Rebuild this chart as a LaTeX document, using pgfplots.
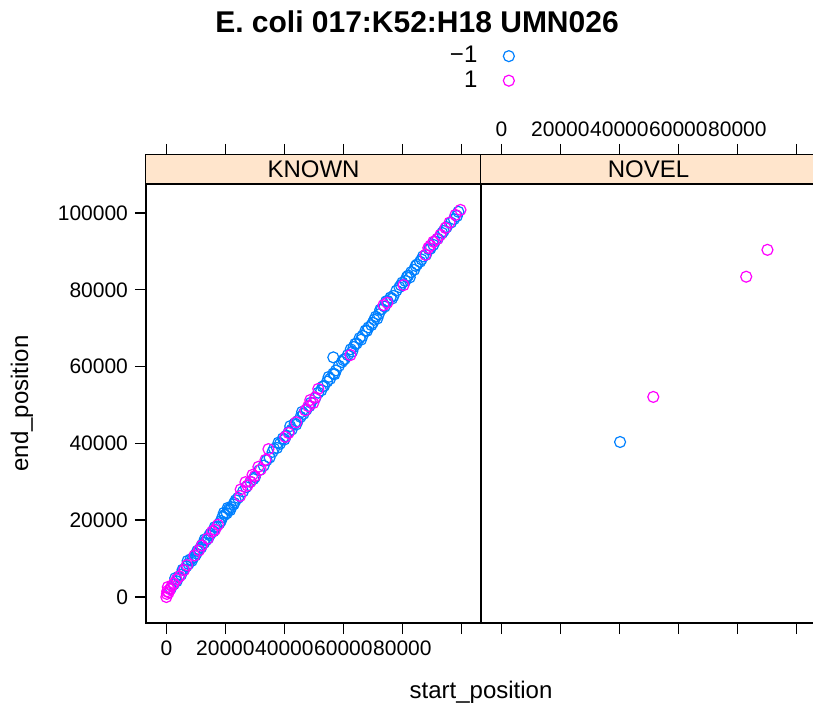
\documentclass[border=0pt]{standalone}
\usepackage{pgfplots}
\pgfplotsset{compat=1.18}
\usepackage{fontspec}
\setmainfont{Liberation Sans}
\definecolor{ltblue}{HTML}{0080FF}
\definecolor{ltmag}{HTML}{FF00FF}
\definecolor{stripbg}{HTML}{FFE5CC}

% known features, strand -1
\pgfplotstableread{
x y
1500 2200
2500 3300
3500 4100
4200 5300
5000 5800
6000 7200
6800 8000
7500 8600
8200 9800
9000 10100
9800 10800
10500 12000
11200 12400
12000 13500
12800 14100
13500 14800
14200 15300
15000 16500
16000 17100
17000 18300
18000 19200
19000 20800
19800 21400
20500 21800
21200 22900
22000 23400
22800 24100
23500 25200
24300 25800
26000 27500
27000 28600
28500 30000
30000 31200
31500 33000
33000 34200
34000 35600
35000 36300
36000 37800
37500 38800
38500 39900
39500 41300
40500 41900
41500 43000
42500 43600
43500 45200
44500 45800
45500 46900
46500 47700
47500 48800
49000 50600
50500 51800
51500 53200
52500 53800
53500 55000
54500 56100
55500 56800
56600 58200
57500 59000
56600 62400
58500 60200
59500 61200
60500 62000
61500 63000
62500 64500
63500 65100
64500 66000
65500 67400
66000 67000
67500 69400
68500 70200
69500 70800
70500 72200
71000 73000
72000 73600
73000 75000
74000 75600
75000 77100
76000 78000
77000 78400
78000 79800
79000 80700
80000 81900
81000 82300
82000 83700
83000 84600
84000 85200
85000 86600
86000 87300
87000 88700
88000 89100
89000 90500
90500 91700
92000 93300
93500 94800
95000 96300
96500 97500
97500 98400
98500 99200
99000 100300
3000 4900
5500 7100
7200 9400
8600 9400
10200 11300
11800 12900
13000 15000
14600 16100
16400 18200
18500 19800
19500 21900
20800 23200
21600 22600
23000 24500
29500 30700
36500 38600
38000 40200
40000 41000
42000 44500
44000 44900
46000 48200
48500 49700
53000 54800
55000 57300
57000 58000
60000 61700
63000 63900
64000 65900
66500 68000
68000 69300
70000 71400
71500 72500
72500 74800
74500 77000
76500 77700
79500 81200
81500 83300
82500 83200
84500 86200
86500 87900
89500 90700
91000 92600
94000 95300
}\knownneg

% known features, strand 1
\pgfplotstableread{
x y
0 0
200 800
300 1500
500 2600
800 1200
1200 2000
1800 2900
2500 3500
3500 4600
4500 5400
6000 7000
7000 8300
9500 10800
11000 12100
12000 13400
14000 15200
15500 17000
16500 17500
17500 18800
25000 26300
25200 28000
26800 29900
27500 29000
28500 30000
29200 31800
30000 31500
31200 33900
32000 33200
33600 35700
34600 38500
40300 41700
41400 42700
44000 45500
47100 48600
48100 49700
48800 51300
49800 50500
50500 52000
51500 54200
62400 63000
73600 76000
74900 76600
80400 81200
87800 89100
88800 90900
89500 91500
90500 92500
91800 93200
92900 94300
94600 96100
96000 97500
98000 99500
99700 100800
}\knownpos

\pgfplotsset{
  panel/.style={
    scale only axis,
    width=167.5pt, height=234pt,
    xmin=-6900, xmax=106660,
    ymin=-6771, ymax=115097,
    scaled ticks=false,
    axis line style={line width=0.7pt},
    tick style={line width=0.7pt, black},
    tick align=outside,
    major tick length=5.5pt,
    xtick={0,20000,40000,60000,80000,100000},
    xtick pos=both,
    tick label style={font=\fontsize{10.5}{12}\selectfont},
    clip=true,
  },
  neg/.style={only marks, mark=o, mark size=2.75pt, color=ltblue, mark options={line width=0.6pt}},
  pos/.style={only marks, mark=o, mark size=2.75pt, color=ltmag, mark options={line width=0.6pt}},
}

\begin{document}
\begin{tikzpicture}
\useasboundingbox (0,0) rectangle (406.5pt,355.5pt);
\clip (0,0) rectangle (406.5pt,355.5pt);

% KNOWN panel
\begin{axis}[panel,
    at={(73pt,44pt)}, anchor=south west,
    ytick={0,20000,40000,60000,80000,100000},
    yticklabels={0,20000,40000,60000,80000,100000},
    ytick pos=left,
    xticklabels={0,20000,40000,60000,80000,{}},
    xticklabel pos=lower,
    legend plot pos=right,
    legend cell align=right,
    legend style={at={(0.999,1.185)}, anchor=center, draw=none, fill=none,
      font=\fontsize{12}{12}\selectfont, row sep=-0.5pt, column sep=11.5pt,
      nodes={inner sep=1.5pt}},
  ]
  \fill[stripbg] (rel axis cs:0,0.938) rectangle (rel axis cs:1,1);
  \draw[line width=0.7pt] (rel axis cs:0,0.938) -- (rel axis cs:1,0.938);
  \node[font=\fontsize{12}{12}\selectfont] at (rel axis cs:0.5,0.969) {KNOWN};
  \addplot[neg] table {\knownneg};
  \addlegendentry{−1}
  \addplot[pos] table {\knownpos};
  \addlegendentry{1}
\end{axis}

% NOVEL panel
\begin{axis}[panel,
    at={(240.5pt,44pt)}, anchor=south west,
    ytick=\empty,
    xticklabels={0,20000,40000,60000,80000,{}},
    xticklabel pos=upper,
  ]
  \fill[stripbg] (rel axis cs:0,0.938) rectangle (rel axis cs:1,1);
  \draw[line width=0.7pt] (rel axis cs:0,0.938) -- (rel axis cs:1,0.938);
  \node[font=\fontsize{12}{12}\selectfont] at (rel axis cs:0.5,0.969) {NOVEL};
  \addplot[neg] coordinates {(40240,40360)};
  \addplot[pos] coordinates {(51500,52100) (83000,83400) (90200,90400)};
\end{axis}

\node[font=\bfseries\fontsize{15}{18}\selectfont] at (208.5pt,344.5pt) {E. coli 017:K52:H18 UMN026};
\node[font=\fontsize{12}{12}\selectfont] at (240.5pt,9.5pt) {start\_position};
\node[font=\fontsize{12}{12}\selectfont, rotate=90] at (11pt,153.75pt) {end\_position};
\end{tikzpicture}
\end{document}
